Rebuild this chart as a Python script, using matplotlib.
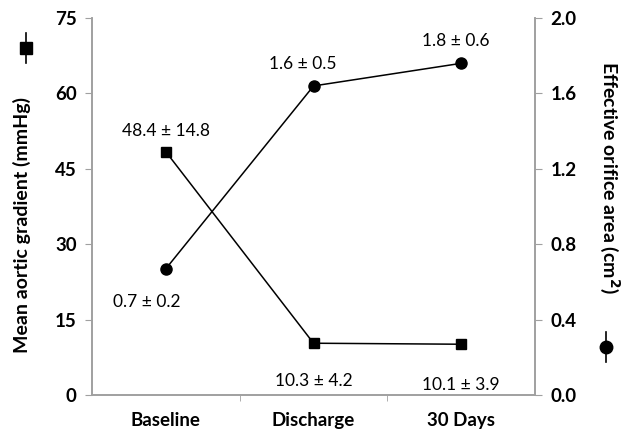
import matplotlib
matplotlib.use("Agg")
import matplotlib.pyplot as plt
from matplotlib.lines import Line2D

plt.rcParams['font.family'] = ['Lato', 'DejaVu Sans']

categories = ["Baseline", "Discharge", "30 Days"]
gradient = [48.4, 10.3, 10.1]
gradient_labels = ["48.4 ± 14.8", "10.3 ± 4.2", "10.1 ± 3.9"]
eoa = [0.67, 1.64, 1.76]
eoa_labels = ["0.7 ± 0.2", "1.6 ± 0.5", "1.8 ± 0.6"]
left_ticks = [0, 15, 30, 45, 60, 75]
right_ticks = [0.0, 0.4, 0.8, 1.2, 1.6, 2.0]

fig = plt.figure(figsize=(6.32, 4.33), dpi=100)
ax = fig.add_axes([0.1456, 0.0878, 0.701, 0.8704])
ax2 = ax.twinx()

x = [i + 0.5 for i in range(len(categories))]
ax.plot(x, gradient, color='black', lw=1.1, marker='s', ms=7.5, zorder=3)
ax2.plot(x, eoa, color='black', lw=1.1, marker='o', ms=8, zorder=3)

ax.set_xlim(0, 3)
ax.set_ylim(0, 75)
ax2.set_ylim(0, 2.0)
ax.set_yticks(left_ticks)
ax.set_yticklabels([str(t) for t in left_ticks], fontsize=13.5, fontweight='bold')
ax2.set_yticks(right_ticks)
ax2.set_yticklabels([f"{t:.1f}" for t in right_ticks], fontsize=13.5, fontweight='bold')

ax.set_xticks(x)
ax.set_xticklabels(categories, fontsize=13.5, fontweight='bold')
ax.tick_params(axis='x', length=0, pad=12)
ax.set_xticks([1, 2], minor=True)
ax.tick_params(axis='x', which='minor', length=4, color='#a0a0a0', direction='out')

grey = '#a0a0a0'
for a in (ax, ax2):
    a.spines['top'].set_visible(False)
    for s in ('left', 'right', 'bottom'):
        a.spines[s].set_color(grey)
        a.spines[s].set_linewidth(1.2)
ax.tick_params(axis='y', length=5, color=grey, pad=6)
ax2.tick_params(axis='y', length=5, color=grey, pad=6)

# annotations
offs_g = [(0, 15), (0, -27), (0, -29)]
for xi, v, t, o in zip(x, gradient, gradient_labels, offs_g):
    ax.annotate(t, (xi, v), xytext=o, textcoords='offset points',
                ha='center', va='center', fontsize=12.5)
offs_e = [(-14, -24), (-8, 16), (-4, 16)]
for xi, v, t, o in zip(x, eoa, eoa_labels, offs_e):
    ax2.annotate(t, (xi, v), xytext=o, textcoords='offset points',
                 ha='center', va='center', fontsize=12.5)

# axis labels
fig.text(0.035, 0.48, "Mean aortic gradient (mmHg)", rotation=90,
         ha='center', va='center', fontsize=14, fontweight='bold')
fig.text(0.965, 0.59, "Effective orifice area (cm$^\\mathbf{2}$)", rotation=270,
         ha='center', va='center', fontsize=14, fontweight='bold')

# legend symbols next to axis labels
fx, fy = 0.041, 1 - 48 / 433
fig.add_artist(Line2D([fx, fx], [fy - 0.035, fy + 0.035], color='black', lw=1.2,
                      transform=fig.transFigure))
fig.add_artist(Line2D([fx], [fy], marker='s', ms=9, color='black',
                      transform=fig.transFigure))
gx, gy = 0.959, 1 - 347 / 433
fig.add_artist(Line2D([gx, gx], [gy - 0.035, gy + 0.035], color='black', lw=1.2,
                      transform=fig.transFigure))
fig.add_artist(Line2D([gx], [gy], marker='o', ms=9, color='black',
                      transform=fig.transFigure))

fig.savefig("out.png", dpi=100)
